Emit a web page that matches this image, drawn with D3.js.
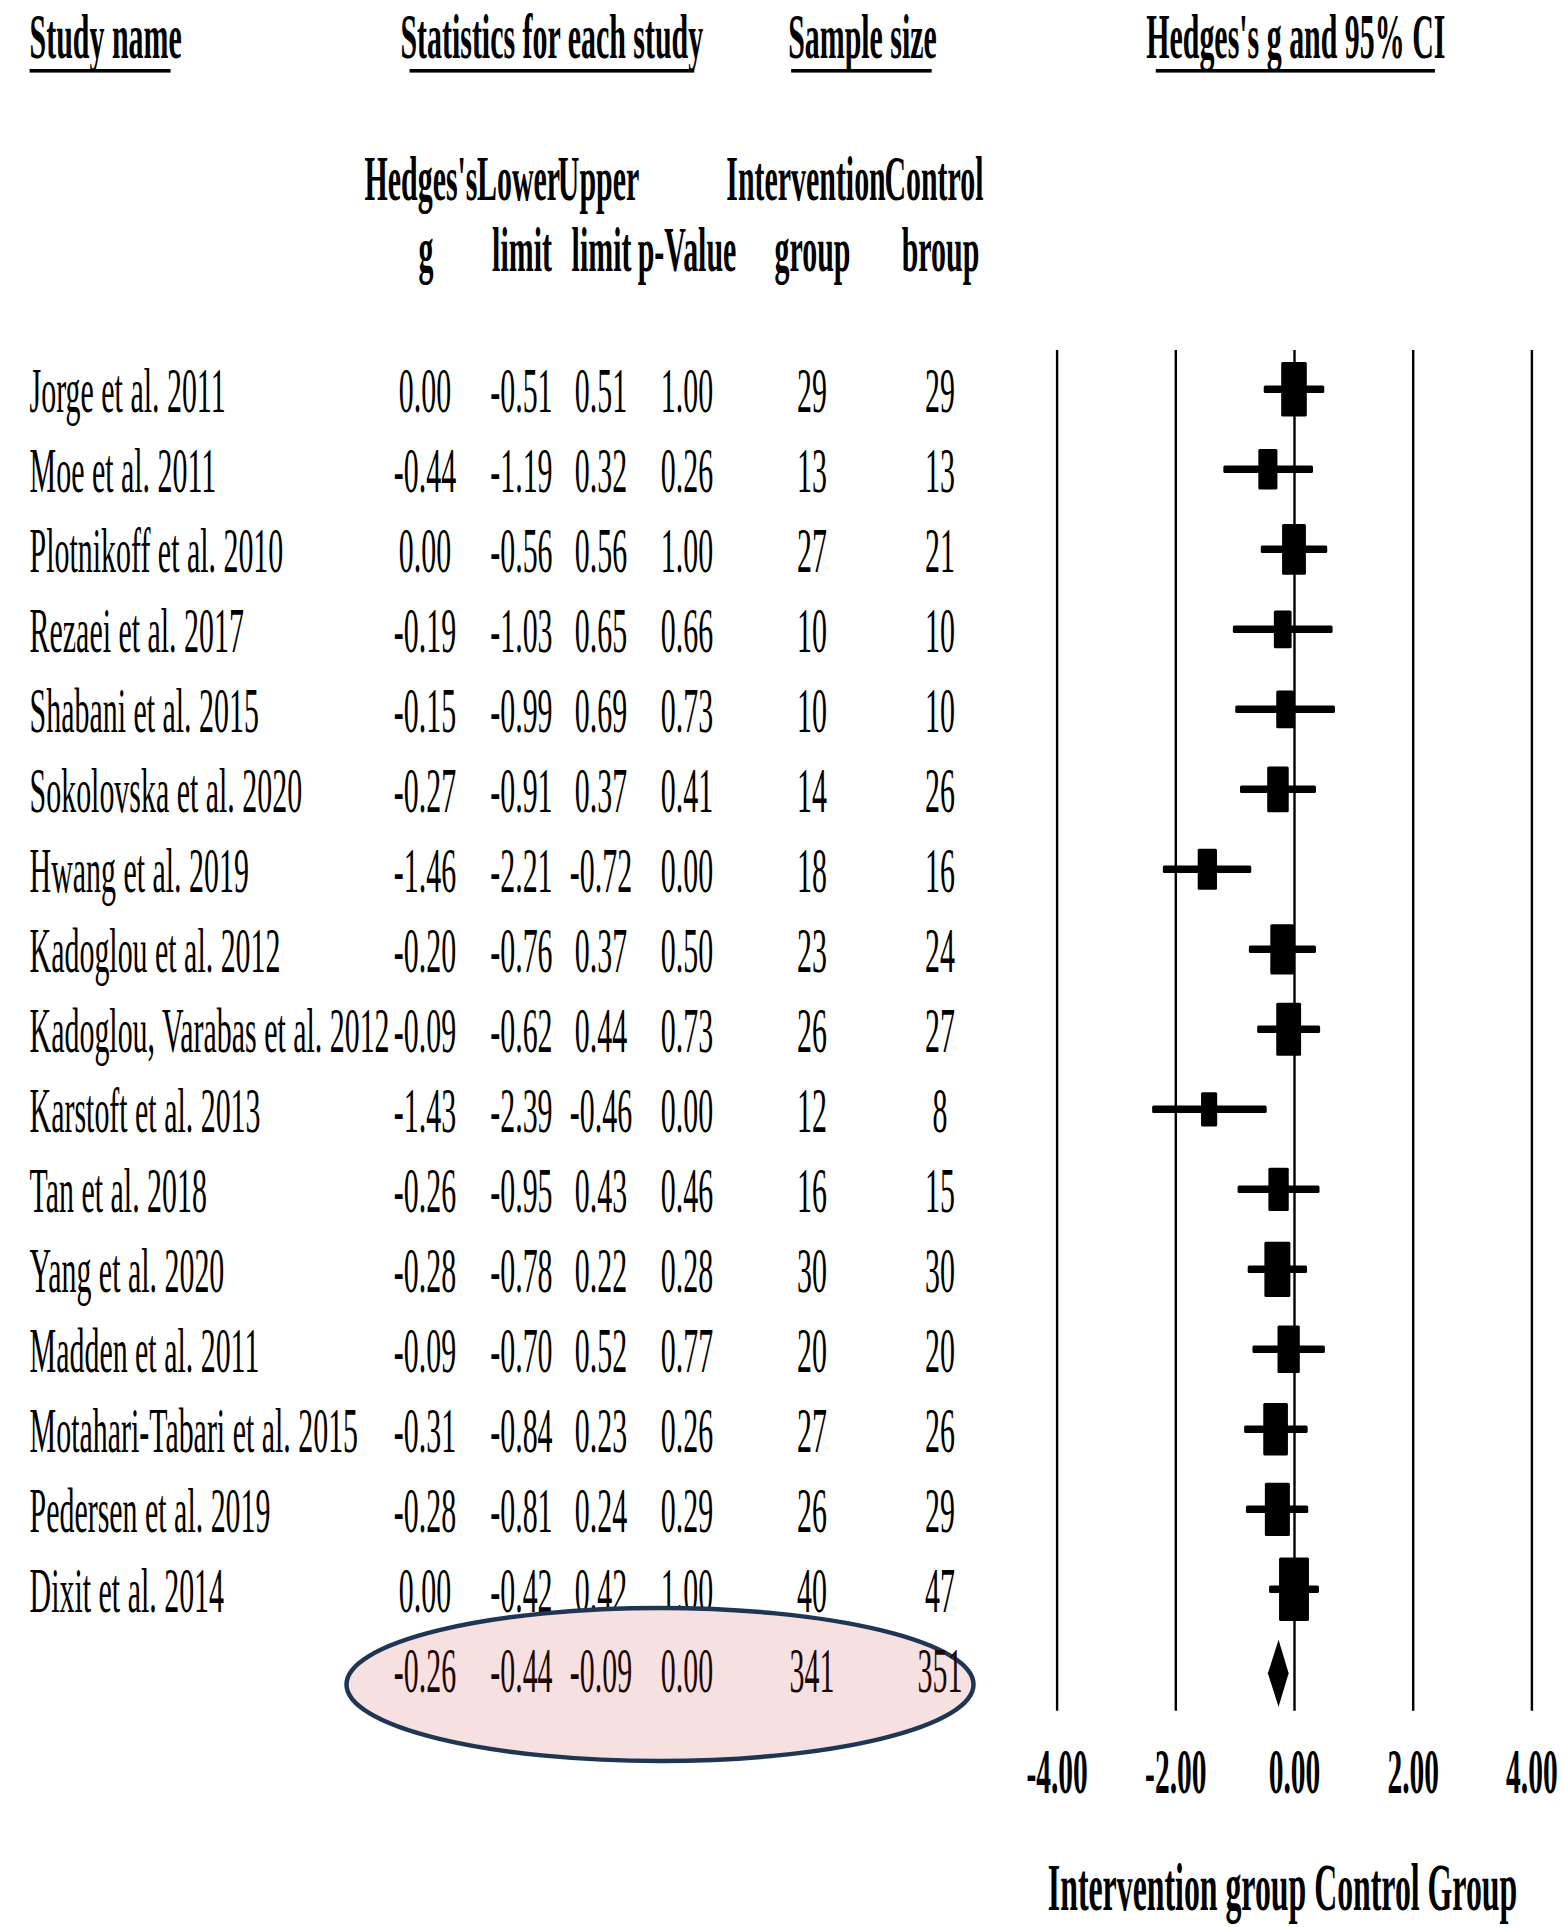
<!DOCTYPE html>
<html>
<head>
<meta charset="utf-8">
<script src="https://cdn.jsdelivr.net/npm/d3@7"></script>
<style>
  html, body { margin: 0; padding: 0; background: #fff; }
  svg { display: block; }
  text { font-family: "Liberation Serif", "Times New Roman", serif; }
</style>
</head>
<body>
<svg id="chart" width="1564" height="1927"></svg>
<script>
// ---- Study-level data ----
const studies = [
  "Jorge et al. 2011", "Moe et al. 2011", "Plotnikoff et al. 2010", "Rezaei et al. 2017",
  "Shabani et al. 2015", "Sokolovska et al. 2020", "Hwang et al. 2019", "Kadoglou et al. 2012",
  "Kadoglou, Varabas et al. 2012", "Karstoft et al. 2013", "Tan et al. 2018", "Yang et al. 2020",
  "Madden et al. 2011", "Motahari-Tabari et al. 2015", "Pedersen et al. 2019", "Dixit et al. 2014"
];
const hedgesG    = [0.00, -0.44, 0.00, -0.19, -0.15, -0.27, -1.46, -0.20, -0.09, -1.43, -0.26, -0.28, -0.09, -0.31, -0.28, 0.00];
const lowerLimit = [-0.51, -1.19, -0.56, -1.03, -0.99, -0.91, -2.21, -0.76, -0.62, -2.39, -0.95, -0.78, -0.70, -0.84, -0.81, -0.42];
const upperLimit = [0.51, 0.32, 0.56, 0.65, 0.69, 0.37, -0.72, 0.37, 0.44, -0.46, 0.43, 0.22, 0.52, 0.23, 0.24, 0.42];
const pValue     = [1.00, 0.26, 1.00, 0.66, 0.73, 0.41, 0.00, 0.50, 0.73, 0.00, 0.46, 0.28, 0.77, 0.26, 0.29, 1.00];
const nIntervention = [29, 13, 27, 10, 10, 14, 18, 23, 26, 12, 16, 30, 20, 27, 26, 40];
const nControl      = [29, 13, 21, 10, 10, 26, 16, 24, 27, 8, 15, 30, 20, 26, 29, 47];

// ---- Pooled estimate ----
const pooledStats = [-0.26, -0.44, -0.09, 0.00];   // g, lower, upper, p
const pooledN     = [341, 351];                     // intervention, control

// ---- Axis ----
const tickValues = [-4, -2, 0, 2, 4];

// ---- Layout ----
const SX = 0.475;         // horizontal condensing of the typeface
const FS = 63;            // body font size
const svg = d3.select("#chart");
svg.append("rect").attr("width", 1564).attr("height", 1927).attr("fill", "#fff");

const x = d3.scaleLinear().domain([-4, 4]).range([1056.6, 1531.4]);
const nRows = studies.length + 1;
const yRow = d3.scalePoint().domain(d3.range(nRows)).range([389.3, 389.3 + 80 * (nRows - 1)]);
const baseOff = 22.4;     // text baseline below row centre

const fmt = v => v.toFixed(2);

function txt(parent, str, tx, ty, anchor, weight, size, color, sx) {
  return parent.append("text")
    .attr("transform", `translate(${tx},${ty}) scale(${sx || SX},1)`)
    .attr("text-anchor", anchor || "start")
    .attr("font-weight", weight || "normal")
    .attr("font-size", size || FS)
    .attr("fill", color || "#000")
    .text(str);
}

// ---- Column headings ----
const head = svg.append("g").attr("class", "headings");
const titleX = [29.6, 551.8, 862.5, 1295.8];
const titles = [
  txt(head, "Study name", titleX[0], 57.5, "start", "bold"),
  txt(head, "Statistics for each study", titleX[1], 57.5, "middle", "bold"),
  txt(head, "Sample size", titleX[2], 57.5, "middle", "bold"),
  txt(head, "Hedges's g and 95% CI", titleX[3], 57.5, "middle", "bold")
];
const insetL = [0.0, 0.03, 0.02, 0.032];
const insetR = [0.073, 0.03, 0.035, 0.035];
titles.forEach((t, i) => {
  const b = t.node().getBBox();
  const left = titleX[i] + b.x * SX, w = b.width * SX;
  head.append("rect")
    .attr("x", left + w * insetL[i]).attr("width", w * (1 - insetL[i] - insetR[i]))
    .attr("y", 69).attr("height", 3.6).attr("fill", "#000");
});

const sub = svg.append("g").attr("class", "subheadings");
txt(sub, "Hedges's", 421, 200, "middle", "bold");
txt(sub, "Lower", 518.5, 200, "middle", "bold");
txt(sub, "Upper", 598.5, 200, "middle", "bold");
txt(sub, "Intervention", 806, 200, "middle", "bold");
txt(sub, "Control", 934, 200, "middle", "bold");
txt(sub, "g", 426, 270.5, "middle", "bold");
txt(sub, "limit", 522, 270.5, "middle", "bold");
txt(sub, "limit", 601.5, 270.5, "middle", "bold");
txt(sub, "p-Value", 687, 270.5, "middle", "bold");
txt(sub, "group", 812.5, 270.5, "middle", "bold");
txt(sub, "broup", 940.5, 270.5, "middle", "bold");

// ---- Table rows ----
const colX = { g: 425, lo: 521.4, hi: 601, p: 687, nI: 812, nC: 940 };
const table = svg.append("g").attr("class", "table");
studies.forEach((s, i) => {
  const by = yRow(i) + baseOff;
  txt(table, s, 29.6, by, "start");
  txt(table, fmt(hedgesG[i]), colX.g, by, "middle");
  txt(table, fmt(lowerLimit[i]), colX.lo, by, "middle");
  txt(table, fmt(upperLimit[i]), colX.hi, by, "middle");
  txt(table, fmt(pValue[i]), colX.p, by, "middle");
  txt(table, String(nIntervention[i]), colX.nI, by, "middle");
  txt(table, String(nControl[i]), colX.nC, by, "middle");
});

// ---- Highlight around pooled row ----
const sumIdx = studies.length;
svg.append("ellipse")
  .attr("cx", 660).attr("cy", 1684.5).attr("rx", 313.5).attr("ry", 76.5)
  .attr("fill", "#f6e0e0").attr("stroke", "#1e3653").attr("stroke-width", 4.5);

const pooledG = svg.append("g").attr("class", "pooled");
const sb = yRow(sumIdx) + baseOff;
const sumColor = "#1c0606";
txt(pooledG, fmt(pooledStats[0]), colX.g, sb, "middle", "normal", FS, sumColor);
txt(pooledG, fmt(pooledStats[1]), colX.lo, sb, "middle", "normal", FS, sumColor);
txt(pooledG, fmt(pooledStats[2]), colX.hi, sb, "middle", "normal", FS, sumColor);
txt(pooledG, fmt(pooledStats[3]), colX.p, sb, "middle", "normal", FS, sumColor);
txt(pooledG, String(pooledN[0]), colX.nI, sb, "middle", "normal", FS, sumColor);
txt(pooledG, String(pooledN[1]), colX.nC, sb, "middle", "normal", FS, sumColor);

// ---- Forest plot: axis with full-height reference lines ----
const plotTop = 350, plotBottom = 1710.7;
const axis = d3.axisBottom(x)
  .tickValues(tickValues)
  .tickFormat(d => d.toFixed(2))
  .tickSizeInner(-(plotBottom - plotTop))
  .tickSizeOuter(0);
const axG = svg.append("g").attr("transform", `translate(0,${plotBottom})`).call(axis);
axG.select(".domain").remove();
axG.selectAll(".tick line").attr("stroke", "#000").attr("stroke-width", 2.4);
axG.selectAll(".tick text")
  .attr("x", null).attr("y", null).attr("dy", null)
  .attr("transform", `translate(0,${1793 - plotBottom}) scale(0.468,1)`)
  .attr("text-anchor", "middle")
  .attr("font-family", "Liberation Serif, Times New Roman, serif")
  .attr("font-weight", "bold")
  .attr("font-size", FS)
  .attr("fill", "#000");

// ---- Study markers: whiskers and weight-sized boxes ----
const weight = studies.map((s, i) => {
  const se = (upperLimit[i] - lowerLimit[i]) / (2 * 1.96);
  return 1 / (se * se);
});
const boxH = d3.scaleLinear().domain([2, 4.7]).range([34, 64]);
const marks = svg.append("g").attr("class", "marks");
studies.forEach((s, i) => {
  const cy = yRow(i);
  marks.append("rect")
    .attr("x", x(lowerLimit[i])).attr("width", x(upperLimit[i]) - x(lowerLimit[i]))
    .attr("y", cy - 3.8).attr("height", 7.6).attr("rx", 1.5).attr("fill", "#000");
  const h = boxH(Math.sqrt(weight[i]));
  const w = h * 0.47;
  marks.append("rect")
    .attr("x", x(hedgesG[i]) - w / 2).attr("width", w)
    .attr("y", cy - h / 2).attr("height", h).attr("rx", 1.5).attr("fill", "#000");
});

// ---- Pooled diamond ----
const dy = yRow(sumIdx) + 4, dh = 33.5;
marks.append("path")
  .attr("d", `M${x(pooledStats[1])},${dy} L${x(pooledStats[0])},${dy - dh} L${x(pooledStats[2])},${dy} L${x(pooledStats[0])},${dy + dh} Z`)
  .attr("fill", "#000");

// ---- Direction label under the axis ----
txt(svg, "Intervention group Control Group", 1282.5, 1910, "middle", "bold", 68, "#000", 0.468);
</script>
</body>
</html>
